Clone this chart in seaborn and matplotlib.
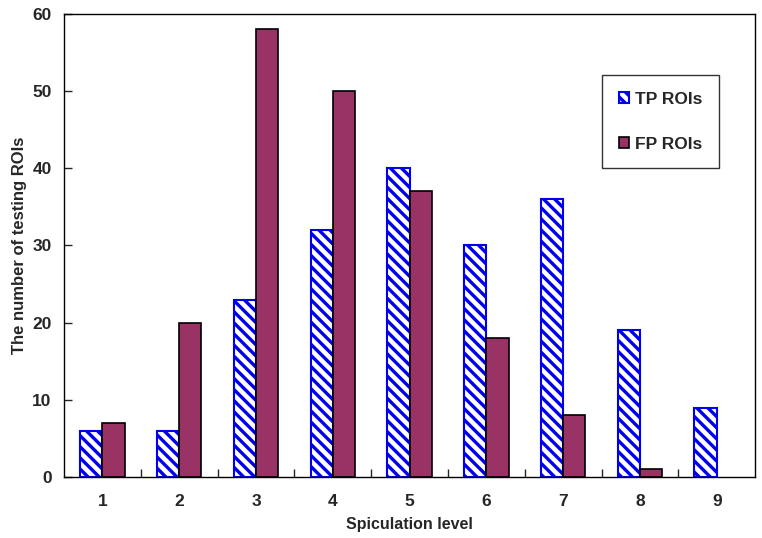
import matplotlib
matplotlib.use("Agg")
import matplotlib.pyplot as plt
from matplotlib.ticker import FixedLocator
import pandas as pd
import seaborn as sns

# values
levels = ["1", "2", "3", "4", "5", "6", "7", "8", "9"]
tp_rois = [6, 6, 23, 32, 40, 30, 36, 19, 9]
fp_rois = [7, 20, 58, 50, 37, 18, 8, 1, 0]
series_names = ["TP ROIs", "FP ROIs"]

df = pd.DataFrame({
    "level": levels * 2,
    "count": tp_rois + fp_rois,
    "series": [series_names[0]] * len(levels) + [series_names[1]] * len(levels),
})

sns.set_style("white")
plt.rcParams["font.family"] = ["Liberation Sans", "DejaVu Sans"]
plt.rcParams["font.weight"] = "bold"
plt.rcParams["hatch.linewidth"] = 2.4

fig = plt.figure(figsize=(7.62, 5.38), dpi=100)
ax = fig.add_axes([0.084, 0.1134, 0.907, 0.8606])

blue = "#0000EE"
maroon = "#993366"

sns.barplot(data=df, x="level", y="count", hue="series", order=levels,
            hue_order=series_names, palette=["white", maroon],
            width=0.58, gap=0, saturation=1, ax=ax, legend=False)

# TP bars: white fill, blue diagonal stripes
for bar in ax.containers[0]:
    bar.set_facecolor("white")
    bar.set_edgecolor(blue)
    bar.set_hatch("\\\\\\")
    bar.set_linewidth(1.5)
# FP bars: solid maroon, black outline
for bar in ax.containers[1]:
    bar.set_edgecolor("black")
    bar.set_linewidth(1.2)
    if bar.get_height() == 0:
        bar.set_visible(False)

ax.set_ylim(0, 60)
ax.set_xlim(-0.5, len(levels) - 0.5)
ax.set_yticks(range(0, 61, 10))

# tick marks sit on the group boundaries, labels at group centres
ax.xaxis.set_minor_locator(FixedLocator([i + 0.5 for i in range(len(levels) - 1)]))
ax.tick_params(axis="x", which="major", length=0, pad=12, labelsize=12.5)
ax.tick_params(axis="x", which="minor", direction="in", length=6, width=1, bottom=True)
ax.tick_params(axis="y", direction="in", length=6, width=1, pad=9, labelsize=12.5, left=True)

for spine in ax.spines.values():
    spine.set_visible(True)
    spine.set_color("black")
    spine.set_linewidth(1)

ax.set_xlabel("Spiculation level", fontsize=11.5, fontweight="bold", labelpad=6)
ax.set_ylabel("The number of testing ROIs", fontsize=12, fontweight="bold", labelpad=4)

leg = ax.legend(handles=[ax.containers[0][0], ax.containers[1][0]],
                labels=series_names, loc="upper left",
                bbox_to_anchor=(0.7786, 0.868), fontsize=12.5,
                frameon=True, fancybox=False, shadow=False,
                handlelength=0.6, handleheight=0.6, handletextpad=0.35,
                labelspacing=1.75, borderpad=0.95, borderaxespad=0)
leg.get_frame().set_edgecolor("black")
leg.get_frame().set_linewidth(1)
for t in leg.get_texts():
    t.set_fontweight("bold")

fig.savefig("out.png", dpi=100)
